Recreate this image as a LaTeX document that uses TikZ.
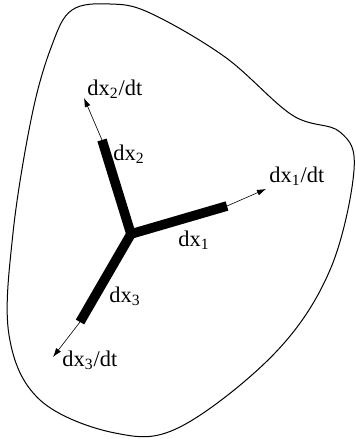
\documentclass[tikz,border=0pt]{standalone}
\usepackage{fontspec}
\setmainfont{Liberation Serif}
\usetikzlibrary{arrows.meta}

\begin{document}
\begin{tikzpicture}[x=0.5pt,y=-0.5pt,>=Latex,
  lbl/.style={anchor=base west,inner sep=0pt,font=\fontsize{11.2}{13}\selectfont},
  bar/.style={line width=4.8pt,line join=miter},
  rate/.style={line width=0.3pt,-{Latex[length=4.5pt,width=3pt]}}]
\useasboundingbox (0,0) rectangle (355,439);
\draw[line width=0.5pt] plot[smooth cycle,tension=0.6] coordinates {(52,45) (72,10) (110,4) (150,13) (225,57) (292,115) (340,132) (354,170) (330,270) (275,353) (180,427) (115,433) (40,400) (9,335) (13,233) (32,115)};
\coordinate (o) at (131,234);
\coordinate (e1) at (227,206);
\coordinate (e2) at (102,140);
\coordinate (e3) at (80,322);
\coordinate (t1) at (266,189);
\coordinate (t2) at (84,98);
\coordinate (t3) at (53,357);
\draw[bar] (e2)--(o)--(e1);
\draw[bar] (o)--(e3);
\draw[rate] (e1)--(t1);
\draw[rate] (e2)--(t2);
\draw[rate] (e3)--(t3);
\node[lbl] (l1) at (178,246) {dx\textsubscript{1}};
\node[lbl] (l2) at (113,160) {dx\textsubscript{2}};
\node[lbl] (l3) at (109,302) {dx\textsubscript{3}};
\node[lbl] (r1) at (269,182) {dx\textsubscript{1}/dt};
\node[lbl] (r2) at (87,95) {dx\textsubscript{2}/dt};
\node[lbl] (r3) at (62,366) {dx\textsubscript{3}/dt};
\end{tikzpicture}
\end{document}
